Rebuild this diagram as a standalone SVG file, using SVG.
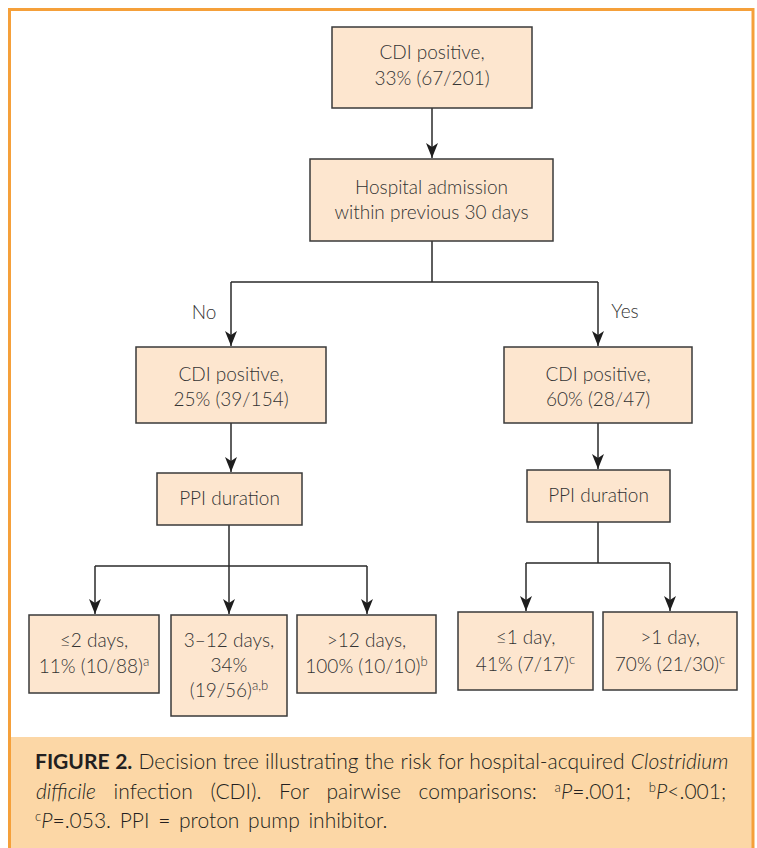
<svg xmlns="http://www.w3.org/2000/svg" width="757" height="848" viewBox="0 0 757 848">
<style>
.box{fill:#fde6cf;stroke:#3a3a3a;stroke-width:1.5}
.t{font-family:Lato,"Open Sans","Liberation Sans",sans-serif;font-weight:300;font-size:19px;fill:#333;text-anchor:middle}
.lbl{font-family:Lato,"Open Sans","Liberation Sans",sans-serif;font-weight:300;font-size:19px;fill:#333;text-anchor:middle}
.c{fill:none;stroke:#2a2a2a;stroke-width:1.5}
.cap{font-family:Lato,"Open Sans","Liberation Sans",sans-serif;font-weight:300;font-size:21px;fill:#231f20}
.sup{font-size:13px}
</style>
<defs>
<marker id="ah" markerUnits="userSpaceOnUse" markerWidth="16" markerHeight="12" refX="15" refY="6" orient="auto" viewBox="0 0 16 12">
<path d="M0,0 L15,6 L0,12 L4,6 Z" fill="#1e1e1e"/>
</marker>
</defs>
<rect x="0" y="0" width="757" height="848" fill="#ffffff"/>
<rect x="10" y="737" width="743" height="115" fill="#fcd7a6"/>
<rect x="9.5" y="9.5" width="743.5" height="845" fill="none" stroke="#f5a03a" stroke-width="3"/>

<g id="connectors">
<path class="c" d="M432,108 V158" marker-end="url(#ah)"/>
<path class="c" d="M432,241 V282 M231,282 H598"/>
<path class="c" d="M231,282 V346" marker-end="url(#ah)"/>
<path class="c" d="M598,282 V346" marker-end="url(#ah)"/>
<path class="c" d="M231,423 V472" marker-end="url(#ah)"/>
<path class="c" d="M598,423 V469" marker-end="url(#ah)"/>
<path class="c" d="M229,525 V614" marker-end="url(#ah)"/>
<path class="c" d="M95,566 H367"/>
<path class="c" d="M95,566 V614" marker-end="url(#ah)"/>
<path class="c" d="M367,566 V614" marker-end="url(#ah)"/>
<path class="c" d="M598,522 V563 M526,563 H670"/>
<path class="c" d="M526,563 V611" marker-end="url(#ah)"/>
<path class="c" d="M670,563 V611" marker-end="url(#ah)"/>
<text class="lbl" x="204" y="319">No</text>
<text class="lbl" x="625" y="318">Yes</text>
</g>

<g id="n-root">
<rect class="box" x="332" y="27" width="200" height="81"/>
<text class="t" x="432" y="59">CDI positive,</text>
<text class="t" x="432" y="85">33% (67/201)</text>
</g>
<g id="n-hosp">
<rect class="box" x="310" y="159" width="243" height="82"/>
<text class="t" x="431.5" y="194">Hospital admission</text>
<text class="t" x="431.5" y="219">within previous 30 days</text>
</g>
<g id="n-no">
<rect class="box" x="136" y="347" width="190" height="76"/>
<text class="t" x="231" y="381">CDI positive,</text>
<text class="t" x="231" y="406">25% (39/154)</text>
</g>
<g id="n-yes">
<rect class="box" x="504" y="347" width="188" height="76"/>
<text class="t" x="598" y="381">CDI positive,</text>
<text class="t" x="598" y="406">60% (28/47)</text>
</g>
<g id="n-ppi-left">
<rect class="box" x="157" y="473" width="145" height="52"/>
<text class="t" x="229.5" y="505">PPI duration</text>
</g>
<g id="n-ppi-right">
<rect class="box" x="527" y="470" width="143" height="52"/>
<text class="t" x="598.5" y="502">PPI duration</text>
</g>
<g id="n-le2">
<rect class="box" x="29" y="615" width="130" height="78"/>
<text class="t" x="94" y="647">≤2 days,</text>
<text class="t" x="94" y="673">11% (10/88)<tspan class="sup" dy="-7">a</tspan></text>
</g>
<g id="n-3to12">
<rect class="box" x="171" y="615" width="116" height="101"/>
<text class="t" x="229" y="647">3–12 days,</text>
<text class="t" x="229" y="672">34%</text>
<text class="t" x="229" y="697">(19/56)<tspan class="sup" dy="-7">a,b</tspan></text>
</g>
<g id="n-gt12">
<rect class="box" x="297" y="615" width="139" height="78"/>
<text class="t" x="366.5" y="647">&gt;12 days,</text>
<text class="t" x="366.5" y="673">100% (10/10)<tspan class="sup" dy="-7">b</tspan></text>
</g>
<g id="n-le1">
<rect class="box" x="458" y="612" width="135" height="78"/>
<text class="t" x="525.5" y="644">≤1 day,</text>
<text class="t" x="525.5" y="671">41% (7/17)<tspan class="sup" dy="-7">c</tspan></text>
</g>
<g id="n-gt1">
<rect class="box" x="603" y="612" width="134" height="78"/>
<text class="t" x="670" y="644">&gt;1 day,</text>
<text class="t" x="670" y="671">70% (21/30)<tspan class="sup" dy="-7">c</tspan></text>
</g>

<g id="caption">
<text class="cap" x="35" y="769" word-spacing="0.5"><tspan font-weight="700">FIGURE 2.</tspan> Decision tree illustrating the risk for hospital-acquired <tspan font-style="italic">Clostridium</tspan></text>
<text class="cap" x="36" y="799" word-spacing="12"><tspan font-style="italic">difficile</tspan> infection (CDI). For pairwise comparisons: <tspan class="sup" dy="-7">a</tspan><tspan dy="7" font-style="italic">P</tspan>=.001; <tspan class="sup" dy="-7">b</tspan><tspan dy="7" font-style="italic">P</tspan>&lt;.001;</text>
<text class="cap" x="35" y="828" word-spacing="3"><tspan class="sup" dy="-7">c</tspan><tspan dy="7" font-style="italic">P</tspan>=.053. PPI = proton pump inhibitor.</text>
</g>
</svg>
